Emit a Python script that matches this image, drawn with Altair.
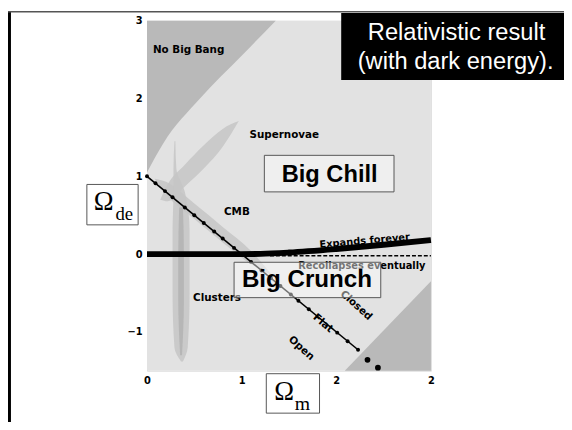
import altair as alt
import pandas as pd

# ---------------- data ----------------
# flat universe line (Omega_m + Omega_de = 1) and its markers
flat_line_m = [0.0, 2.23]
flat_line_de = [1.0, -1.23]
flat_marker_m = [0.0, 0.09, 0.19, 0.27, 0.40, 0.50, 0.60, 0.71, 0.80, 0.92, 1.00,
                 1.10, 1.21, 1.31, 1.41, 1.52, 1.60, 1.71, 2.01, 2.12, 2.23]
flat_marker_de = [1.0, 0.91, 0.81, 0.73, 0.60, 0.50, 0.40, 0.29, 0.20, 0.08, 0.0,
                  -0.10, -0.21, -0.31, -0.41, -0.52, -0.60, -0.71, -1.01, -1.12, -1.23]
big_dot_m = [2.33, 2.44]
big_dot_de = [-1.36, -1.46]

# expands forever / recollapses boundary
bound_m = [0.0, 1.0, 1.2, 1.5, 2.0, 2.5, 3.0]
bound_de = [0.0, 0.0, 0.003, 0.02, 0.065, 0.12, 0.18]
dash_m = [1.3, 3.0]
dash_de = [-0.02, -0.02]

# "No Big Bang" region (lower boundary, up to top of chart)
nbb_m = [0.0, 0.17, 0.56, 1.0, 1.36]
nbb_low = [1.05, 1.42, 2.0, 2.55, 3.0]
nbb_high = [3.0, 3.0, 3.0, 3.0, 3.0]

# lower-right shaded triangle
br_m = [2.09, 3.0]
br_high = [-1.5, -0.35]
br_low = [-1.5, -1.5]

# supernovae confidence band
sn_m = [0.14, 0.22, 0.4, 0.6, 0.8, 0.97]
sn_low = [0.70, 0.68, 0.87, 1.10, 1.38, 1.71]
sn_high = [0.70, 0.90, 1.15, 1.40, 1.61, 1.71]

# CMB confidence band
cmb_m = [0.08, 0.2, 0.5, 0.8, 1.1, 1.32]
cmb_low = [0.97, 0.77, 0.45, 0.15, -0.13, -0.27]
cmb_high = [0.97, 0.93, 0.65, 0.35, 0.04, -0.27]

# clusters confidence band (vertical)
cl_de = [-1.38, -1.2, -0.5, 0.3, 0.8, 1.1, 1.45]
cl_left = [0.36, 0.29, 0.27, 0.27, 0.28, 0.28, 0.29]
cl_right = [0.38, 0.43, 0.45, 0.45, 0.40, 0.31, 0.30]
clc_de = [-1.3, -0.6, 0.0, 0.6]
clc_left = [0.35, 0.33, 0.33, 0.34]
clc_right = [0.37, 0.39, 0.39, 0.38]

# axis ticks
x_tick_values = [0, 1, 2, 3]
x_tick_labels = ["0", "1", "2", "2"]
y_tick_values = [-1, 0, 1, 2, 3]

# ---------------- scales / axes ----------------
W, H = 288, 355
xscale = alt.Scale(domain=[0, 3], nice=False, zero=False)
yscale = alt.Scale(domain=[-1.5, 3], nice=False, zero=False)
label_expr = " : ".join(
    [f"datum.value == {v} ? '{l}'" for v, l in zip(x_tick_values, x_tick_labels)] + ["datum.label"]
)
common_axis = dict(title="", domain=False, ticks=False, grid=False,
                   labelFont="DejaVu Sans", labelFontWeight="bold", labelFontSize=10,
                   labelColor="black", labelFlush=False, labelOverlap=False)
xaxis = alt.Axis(values=x_tick_values, labelExpr=label_expr, labelPadding=5, **common_axis)
yaxis = alt.Axis(values=y_tick_values, labelPadding=5, **common_axis)


def X(f):
    return alt.X(f"{f}:Q", scale=xscale, axis=xaxis)


def Y(f):
    return alt.Y(f"{f}:Q", scale=yscale, axis=yaxis)


BG = "#e2e2e2"
DARK = "#b9b9b9"
BAND = "#c6c6c6"

layers = []

# plot background
layers.append(alt.Chart(pd.DataFrame({"x": [0], "x2": [3], "y": [-1.5], "y2": [3]}))
              .mark_rect(fill=BG)
              .encode(x=X("x"), x2="x2:Q", y=Y("y"), y2="y2:Q"))

# shaded regions
layers.append(alt.Chart(pd.DataFrame({"x": nbb_m, "y": nbb_low, "y2": nbb_high}))
              .mark_area(color=DARK, interpolate="monotone")
              .encode(x=X("x"), y=Y("y"), y2="y2:Q"))
layers.append(alt.Chart(pd.DataFrame({"x": br_m, "y": br_high, "y2": br_low}))
              .mark_area(color=DARK)
              .encode(x=X("x"), y=Y("y"), y2="y2:Q"))

# confidence bands
layers.append(alt.Chart(pd.DataFrame({"x": sn_m, "y": sn_low, "y2": sn_high}))
              .mark_area(color=BAND, opacity=0.85, interpolate="monotone")
              .encode(x=X("x"), y=Y("y"), y2="y2:Q"))
layers.append(alt.Chart(pd.DataFrame({"x": cmb_m, "y": cmb_low, "y2": cmb_high}))
              .mark_area(color=BAND, opacity=0.85, interpolate="monotone")
              .encode(x=X("x"), y=Y("y"), y2="y2:Q"))
layers.append(alt.Chart(pd.DataFrame({"y": cl_de, "x": cl_left, "x2": cl_right}))
              .mark_area(color=BAND, opacity=0.85, orient="horizontal", interpolate="monotone")
              .encode(y=Y("y"), x=X("x"), x2="x2:Q"))
layers.append(alt.Chart(pd.DataFrame({"y": clc_de, "x": clc_left, "x2": clc_right}))
              .mark_area(color="#a8a8a8", opacity=0.6, orient="horizontal", interpolate="monotone")
              .encode(y=Y("y"), x=X("x"), x2="x2:Q"))

# boundary lines
layers.append(alt.Chart(pd.DataFrame({"x": dash_m, "y": dash_de}))
              .mark_line(color="black", strokeWidth=1.5, strokeDash=[4, 2])
              .encode(x=X("x"), y=Y("y")))
layers.append(alt.Chart(pd.DataFrame({"x": bound_m, "y": bound_de}))
              .mark_line(color="black", strokeWidth=6, interpolate="monotone")
              .encode(x=X("x"), y=Y("y")))

# flat line
layers.append(alt.Chart(pd.DataFrame({"x": flat_line_m, "y": flat_line_de}))
              .mark_line(color="black", strokeWidth=1.6)
              .encode(x=X("x"), y=Y("y")))
layers.append(alt.Chart(pd.DataFrame({"x": flat_marker_m, "y": flat_marker_de}))
              .mark_circle(color="black", size=16, opacity=1)
              .encode(x=X("x"), y=Y("y")))
layers.append(alt.Chart(pd.DataFrame({"x": big_dot_m, "y": big_dot_de}))
              .mark_circle(color="black", size=34, opacity=1)
              .encode(x=X("x"), y=Y("y")))

one = pd.DataFrame({"k": [0]})


def note(txt, m, de, size=10.5, angle=0, font="DejaVu Sans", weight="bold", color="black"):
    return (alt.Chart(pd.DataFrame({"x": [m], "y": [de]}))
            .mark_text(text=txt, fontSize=size, angle=angle, font=font, fontWeight=weight,
                       color=color, align="center", baseline="middle")
            .encode(x=X("x"), y=Y("y")))


layers += [
    note("No Big Bang", 0.44, 2.63),
    note("Supernovae", 1.45, 1.53),
    note("CMB", 0.95, 0.54),
    note("Clusters", 0.74, -0.57),
    note("Expands forever", 2.3, 0.17, size=10, angle=355),
    note("Recollapses eventually", 2.27, -0.15, size=10),
    note("Closed", 2.21, -0.66, angle=42),
    note("Flat", 1.86, -0.89, angle=40),
    note("Open", 1.63, -1.21, angle=42),
]

# semi-transparent label boxes in data space
boxes = pd.DataFrame({"x": [1.24, 0.92], "x2": [2.61, 2.47], "y": [1.27, -0.105], "y2": [0.8, -0.56]})
layers.append(alt.Chart(boxes)
              .mark_rect(fill="white", fillOpacity=0.45, stroke="#555555", strokeWidth=1)
              .encode(x=X("x"), x2="x2:Q", y=Y("y"), y2="y2:Q"))
layers.append(note("Big Chill", 1.93, 1.02, size=24, font="Liberation Sans"))
layers.append(note("Big Crunch", 1.69, -0.34, size=24.5, font="Liberation Sans"))


# ---------------- slide decorations outside the plot (pixel offsets) ----------------
def prect(x, x2, y, y2, **kw):
    return (alt.Chart(one).mark_rect(**kw)
            .encode(x=alt.value(x), x2=alt.value(x2), y=alt.value(y), y2=alt.value(y2)))


def ptext(txt, x, y, size, font, color="black", align="center", baseline="alphabetic"):
    return (alt.Chart(one).mark_text(text=txt, fontSize=size, font=font, color=color,
                                     align=align, baseline=baseline)
            .encode(x=alt.value(x), y=alt.value(y)))


layers += [
    # title block
    prect(197, 430, -8, 60, fill="black"),
    ptext("Relativistic result", 314, 12, 24, "Liberation Sans", color="white", baseline="middle"),
    ptext("(with dark energy).", 313, 42, 24, "Liberation Sans", color="white", baseline="middle"),
    # Omega_de box
    prect(-61, -9, 166, 207, fill="white", stroke="#555555", strokeWidth=1),
    ptext("Ω", -44, 192, 27, "Liberation Serif"),
    ptext("de", -32, 202, 19, "Liberation Serif", align="left"),
    # Omega_m box
    prect(121, 175, 358, 398, fill="white", stroke="#555555", strokeWidth=1),
    ptext("Ω", 139, 385, 27, "Liberation Serif"),
    ptext("m", 150, 395, 20, "Liberation Serif", align="left"),
    # slide frame
    prect(-141, -138, -10, 410, fill="black"),
    prect(-141, 430, -10, -8.5, fill="#555555"),
]

chart = (alt.layer(*layers)
         .properties(width=W, height=H,
                     autosize=alt.AutoSizeParams(type="none"),
                     padding={"left": 141, "top": 10, "right": 135, "bottom": 49})
         .configure_view(stroke="transparent")
         .configure(background="white"))

chart.save("out.html", embed_options={"renderer": "svg", "actions": False})
